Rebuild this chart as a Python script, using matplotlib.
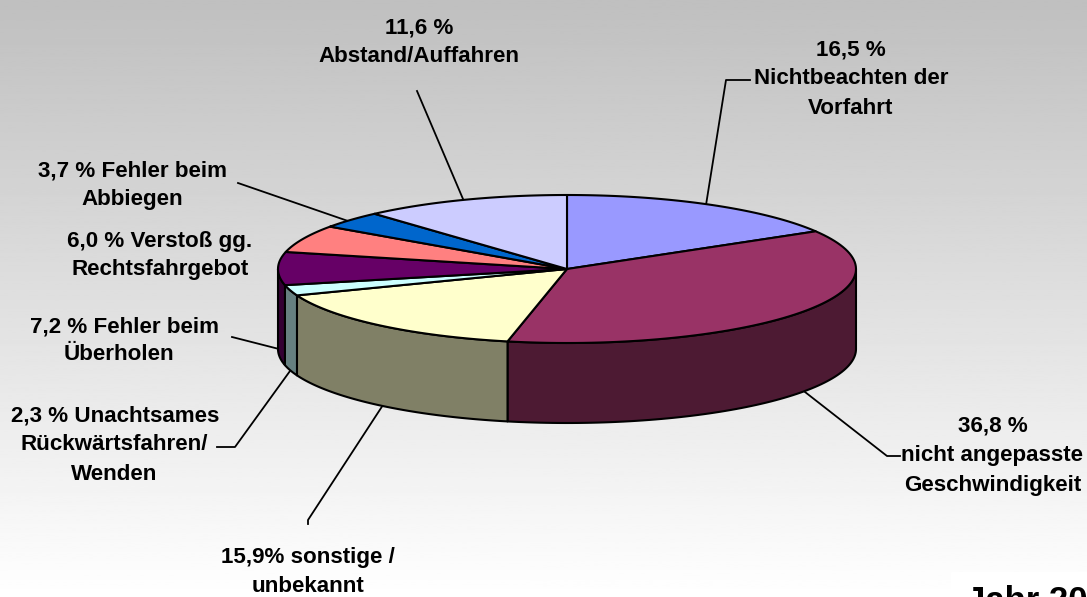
import matplotlib
matplotlib.use('Agg')
import matplotlib.pyplot as plt
import numpy as np

plt.rcParams['font.family'] = ['Liberation Sans', 'DejaVu Sans']

# Anteile in %, im Uhrzeigersinn ab 12 Uhr
labels = ['Nichtbeachten der Vorfahrt', 'nicht angepasste Geschwindigkeit', 'sonstige / unbekannt',
          'Unachtsames Rückwärtsfahren/Wenden', 'Fehler beim Überholen',
          'Verstoß gg. Rechtsfahrgebot', 'Fehler beim Abbiegen', 'Abstand/Auffahren']
values = [16.5, 36.8, 15.9, 2.3, 7.2, 6.0, 3.7, 11.6]
top_colors = ['#9999ff', '#993366', '#ffffcc', '#ccffff', '#660066', '#ff8080', '#0066cc', '#ccccff']
side_colors = ['#4d4d80', '#4d1a33', '#808066', '#668080', '#330033', '#804040', '#003366', '#666680']

cx, cy = 567, 269
rx, ry = 289, 74
depth = 80

fig = plt.figure(figsize=(10.87, 5.97), dpi=100)
ax = fig.add_axes([0, 0, 1, 1])
ax.set_xlim(0, 1087)
ax.set_ylim(597, 0)
ax.axis('off')

# hintergrund verlauf
grad = np.linspace(0.75, 1.0, 256).reshape(-1, 1)
ax.imshow(grad, cmap='gray', vmin=0, vmax=1, extent=[0, 1087, 597, 0], aspect='auto', zorder=0)


def rim(a1, a2, n=80):
    t = np.radians(np.linspace(a1, a2, n))
    return cx + rx * np.sin(t), cy - ry * np.cos(t)


edges = np.concatenate([[0], np.cumsum(values)]) / sum(values) * 360

# seitenwand, nur 90 bis 270 Grad sichtbar
for i in range(len(values)):
    a1 = max(edges[i], 90)
    a2 = min(edges[i + 1], 270)
    if a2 <= a1:
        continue
    x, y = rim(a1, a2)
    ax.fill(np.r_[x, x[::-1]], np.r_[y, y[::-1] + depth], facecolor=side_colors[i],
            edgecolor='black', lw=1.5, zorder=2, joinstyle='round')

# oberseite
for i in range(len(values)):
    x, y = rim(edges[i], edges[i + 1])
    ax.fill(np.r_[cx, x], np.r_[cy, y], facecolor=top_colors[i],
            edgecolor='black', lw=1.5, zorder=3, joinstyle='round')

# fuehrungslinien
leaders = [
    ([706, 726, 750], [205, 80, 80]),
    ([805, 887, 900], [392, 456, 456]),
    ([383, 308, 308], [405, 520, 524]),
    ([290, 235, 217], [371, 447, 447]),
    ([279, 232], [349, 337]),
    ([348, 238], [221, 183]),
    ([463, 417], [199, 91]),
]
for lx, ly in leaders:
    ax.plot(lx, ly, color='black', lw=1.3, zorder=1)

# beschriftung
texts = [
    (419, 28, '11,6 %'), (419, 56, 'Abstand/Auffahren'),
    (851, 50, '16,5 %'), (851, 79, 'Nichtbeachten der'), (851, 108, 'Vorfahrt'),
    (993, 426, '36,8 %'), (992, 456, 'nicht angepasste'), (993, 485, 'Geschwindigkeit'),
    (132, 171, '3,7 % Fehler beim'), (132, 199, 'Abbiegen'),
    (160, 241, '6,0 % Verstoß gg.'), (160, 270, 'Rechtsfahrgebot'),
    (124, 327, '7,2 % Fehler beim'), (119, 355, 'Überholen'),
    (115, 416, '2,3 % Unachtsames'), (114, 445, 'Rückwärtsfahren/'), (114, 474, 'Wenden'),
    (308, 558, '15,9% sonstige /'), (308, 587, 'unbekannt'),
]
for tx, ty, s in texts:
    ax.text(tx, ty, s, ha='center', va='center', fontsize=16.1, fontweight='bold', color='black', zorder=5)

# jahr-kasten, rechts abgeschnitten
ax.fill([951, 1087, 1087, 951], [572, 572, 597, 597], color='white', zorder=4)
ax.text(966, 611, 'Jahr 20', ha='left', va='baseline', fontsize=25, fontweight='bold', color='black', zorder=5)

fig.savefig('out.png', dpi=100)
